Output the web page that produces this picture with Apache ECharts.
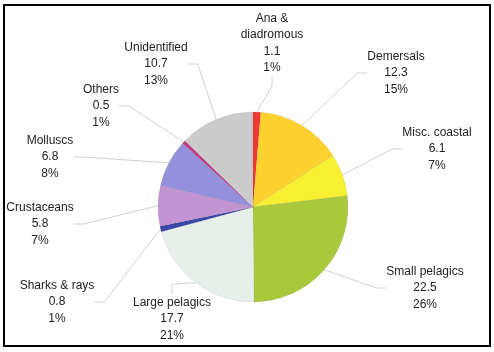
<!DOCTYPE html>
<html lang="en">
<head>
    <meta charset="utf-8">
    <title>Catch composition</title>
    <script src="https://cdn.jsdelivr.net/npm/echarts@6/dist/echarts.min.js"></script>
    <style>
        html, body { margin: 0; padding: 0; background: #fff; }
        #main { width: 494px; height: 352px; }
    </style>
</head>
<body>
<div id="main"></div>
<script type="text/javascript">
// data, clockwise from 12 o'clock
var categories = ['Ana & diadromous', 'Demersals', 'Misc. coastal', 'Small pelagics', 'Large pelagics',
    'Sharks & rays', 'Crustaceans', 'Molluscs', 'Others', 'Unidentified'];
var labelNames = ['Ana &\ndiadromous', 'Demersals', 'Misc. coastal', 'Small pelagics', 'Large pelagics',
    'Sharks & rays', 'Crustaceans', 'Molluscs', 'Others', 'Unidentified'];
var values = [1.1, 12.3, 6.1, 22.5, 17.7, 0.8, 5.8, 6.8, 0.5, 10.7];
var percents = ['1%', '15%', '7%', '26%', '21%', '1%', '7%', '8%', '1%', '13%'];

var colors = ['#f03a3a', '#fdd22e', '#f7ef32', '#a9c83c', '#e8efeb',
    '#3a48a8', '#c394d4', '#9490dc', '#c03c84', '#cbcbcb'];
// where each label block is centred
var labelPos = [[272, 43], [396, 73], [437, 149], [425, 288], [172, 319],
    [57, 302], [40, 224], [50, 157], [101, 106], [156, 64]];

var dom = document.getElementById('main');
var myChart = echarts.init(dom);

var pieData = categories.map(function (name, i) {
    return { name: name, value: values[i], itemStyle: { color: colors[i] } };
});

var option = {
    animation: false,
    graphic: [{
        type: 'rect',
        shape: { x: 4, y: 5, width: 486, height: 341 },
        style: { fill: 'none', stroke: '#000', lineWidth: 2 }
    }],
    series: [{
        type: 'pie',
        center: [253, 207],
        radius: 95,
        startAngle: 90,
        clockwise: true,
        avoidLabelOverlap: false,
        data: pieData,
        itemStyle: { borderColor: 'rgba(0,0,0,0.12)', borderWidth: 0.5 },
        label: {
            show: true,
            color: '#222',
            fontFamily: 'Liberation Sans, Arial, sans-serif',
            fontSize: 12,
            lineHeight: 16.5,
            align: 'center',
            formatter: function (p) {
                var i = p.dataIndex;
                return labelNames[i] + '\n' + values[i] + '\n' + percents[i];
            }
        },
        labelLine: {
            show: true,
            length: 10,
            length2: 10,
            lineStyle: { color: '#d0d0d0', width: 1 }
        },
        labelLayout: function (params) {
            var pos = labelPos[params.dataIndex];
            return { x: pos[0], y: pos[1], align: 'center', verticalAlign: 'middle' };
        }
    }]
};

myChart.setOption(option);
</script>
</body>
</html>
